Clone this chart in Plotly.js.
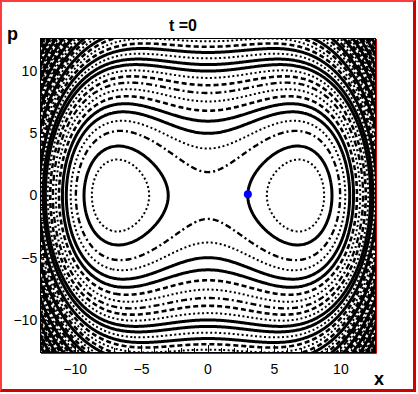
<!DOCTYPE html>
<html>
<head>
<meta charset="utf-8">
<script src="https://cdn.plot.ly/plotly-3.0.1.min.js"></script>
<style>
  html, body { margin:0; padding:0; background:#fff; }
  #wrap { position:relative; width:418px; height:394px; }
  #chart { position:absolute; left:0; top:0; width:418px; height:394px; }
  #frame { position:absolute; left:0; top:0; width:411px; height:387px;
           border-left:2px solid #ff3b3b; border-top:2px solid #ff3b3b;
           border-right:3px solid #d40000; border-bottom:3px solid #d40000;
           pointer-events:none; }
</style>
</head>
<body>
<div id="wrap"><div id="chart"></div><div id="frame"></div></div>
<script>
// ---- data ----
// Hamiltonian H(x,p) = p^2 (1/2 + g x^2) + b (x^2 - u0)^2  (double well)
const wellSq = 48;          // u0 : square of the well position
const wellStiff = 0.0062;   // b
const coupling = 0.0021;    // g
const axisLimit = 12.566;   // +-4*pi
// contour levels (energy values) and their line styles
const levels = [5.0, 9.45, 16.05, 21.4, 26.75, 32.1, 37.45, 42.8, 48.15, 53.5,
                58.85, 64.2, 69.55, 74.9, 80.25, 85.6, 90.95, 96.3, 101.65, 107,
                112.35, 117.7, 123.05, 128.4, 133.75, 139.1, 144.45, 149.8, 155.15, 160.5,
                165.85, 171.2, 176.55, 181.9, 187.25, 192.6, 197.95, 203.3, 208.65, 214];
const styles = ['dot','solid','dashdot','dot','solid','solid','dash','dot','dashdot','dash',
                'dot','solid','solid','dot','solid','dash','dot','dash','solid','dot',
                'dash','solid','dashdot','dot','solid','dash','dot','solid','dash','dot',
                'solid','dashdot','dot','solid','dash','dot','solid','dash','dot','solid'];
// the moving point at t = 0
const pointX = [3.0];
const pointP = [0.1];
const tickVals = [-10, -5, 0, 5, 10];
const tickText = ['\u221210', '\u22125', '0', '5', '10'];

// ---- grid ----
const N = 221;
const gx = [], gp = [];
for (let i = 0; i < N; i++) { gx.push(-axisLimit - 0.2 + (2*axisLimit + 0.4) * i / (N - 1)); }
for (let i = 0; i < N; i++) { gp.push(-axisLimit - 0.2 + (2*axisLimit + 0.4) * i / (N - 1)); }
const z = gp.map(p => gx.map(x => p*p*(0.5 + coupling*x*x) + wellStiff*Math.pow(x*x - wellSq, 2)));

const styleMap = {
  solid:   {dash:'solid', width:3},
  dot:     {dash:'2px,2.5px', width:2},
  dash:    {dash:'5px,3px', width:2.6},
  dashdot: {dash:'6px,3px,2px,3px', width:2.4}
};

const traces = levels.map((L, i) => {
  const st = styleMap[styles[i]];
  return {
    type:'contour', x:gx, y:gp, z:z,
    autocontour:false,
    contours:{start:L, end:L, size:1, coloring:'none', showlabels:false},
    line:{color:'#000', width:st.width, dash:st.dash, smoothing:1},
    showscale:false, hoverinfo:'skip'
  };
});
traces.push({
  type:'scatter', mode:'markers', x:pointX, y:pointP,
  marker:{color:'#0000ff', size:8}, hoverinfo:'skip'
});

const axisCommon = {
  range:[-axisLimit, axisLimit], tickvals:tickVals, ticktext:tickText,
  ticks:'inside', ticklen:7, tickcolor:'#000', tickwidth:1,
  minor:{ticks:'inside', dtick:1, ticklen:4, tickcolor:'#000'},
  showline:true, linecolor:'#000', linewidth:1, mirror:true,
  showgrid:false, zeroline:false,
  tickfont:{family:'Liberation Sans, Arial, sans-serif', size:14, color:'#000'}
};

const layout = {
  width:418, height:394,
  margin:{l:41, r:43, t:39, b:42},
  paper_bgcolor:'#fff', plot_bgcolor:'#fff',
  showlegend:false,
  title:{text:'<b>t =0</b>', xref:'paper', x:0.425, xanchor:'center',
         yref:'container', y:1 - 25/394, yanchor:'middle',
         font:{family:'Liberation Sans, Arial, sans-serif', size:16, color:'#000'}},
  xaxis:Object.assign({}, axisCommon, {title:{text:''}, ticklabelstandoff:4}),
  yaxis:Object.assign({}, axisCommon, {title:{text:''}}),
  shapes:[
    {type:'line', xref:'paper', yref:'paper', x0:1 + 1.5/334, x1:1 + 1.5/334, y0:-1.5/313, y1:1, line:{color:'#e00000', width:1}},
    {type:'line', xref:'paper', yref:'paper', x0:0, x1:1 + 1.5/334, y0:-1.5/313, y1:-1.5/313, line:{color:'#e00000', width:1}}
  ],
  annotations:[
    {text:'<b>p</b>', xref:'paper', yref:'paper', x:-29/334, y:1 + 5/313, xanchor:'center', yanchor:'middle', showarrow:false,
     font:{family:'Liberation Sans, Arial, sans-serif', size:18, color:'#000'}},
    {text:'<b>x</b>', xref:'paper', yref:'paper', x:1 + 4/334, y:-27/313, xanchor:'center', yanchor:'middle', showarrow:false,
     font:{family:'Liberation Sans, Arial, sans-serif', size:18, color:'#000'}}
  ]
};

Plotly.newPlot('chart', traces, layout, {staticPlot:true, displayModeBar:false});
</script>
</body>
</html>
